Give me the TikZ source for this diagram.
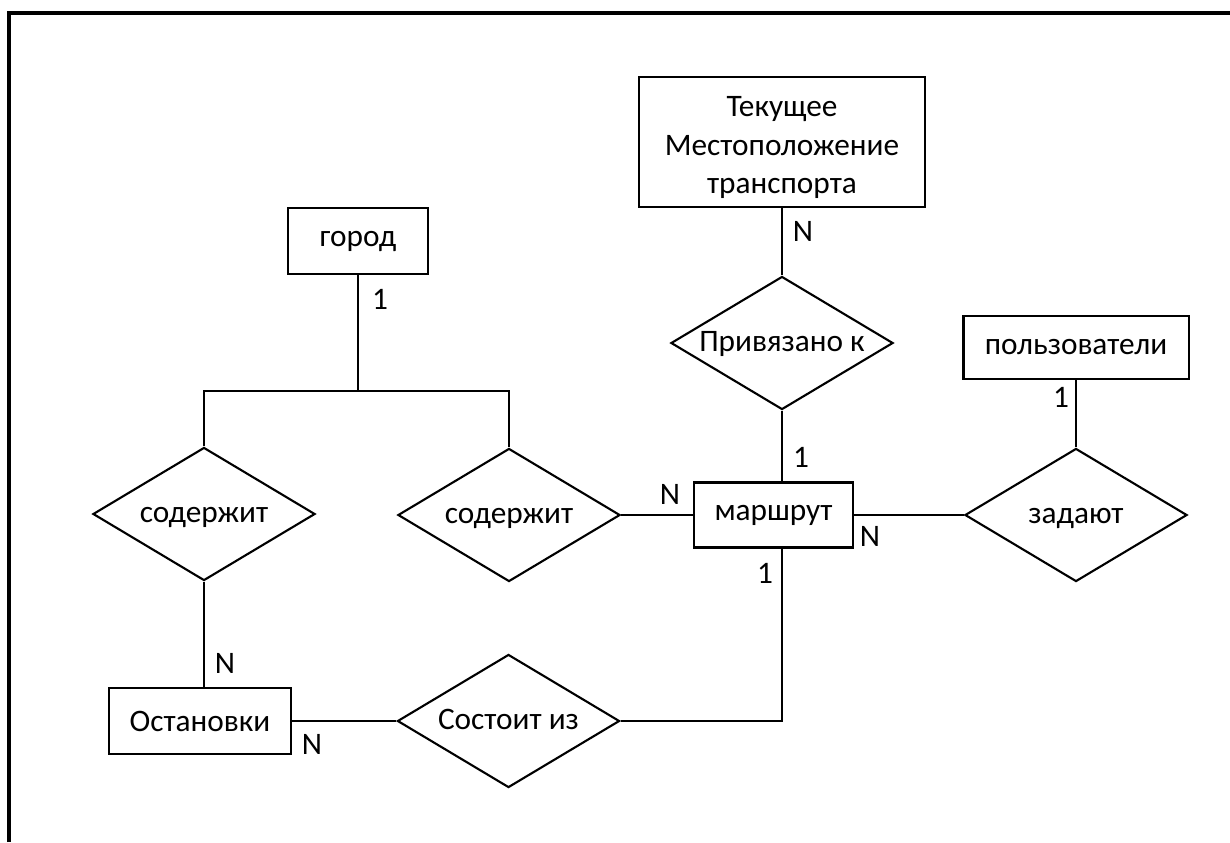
\documentclass[tikz,border=0pt]{standalone}
\usepackage{fontspec}
\setmainfont{Carlito}
\usetikzlibrary{shapes.geometric}
\newcommand\erfont{\fontsize{8.9}{11}\selectfont}
\begin{document}
\begin{tikzpicture}[x=0.01cm,y=-0.01cm,
  entity/.style={draw, rectangle, line width=0.6pt, inner sep=0pt, align=center, font=\erfont},
  rel/.style={draw, diamond, line width=0.6pt, inner sep=0pt, aspect=1.67,
              minimum width=2.22cm, minimum height=1.33cm, font=\erfont,
              text height=1ex, text depth=0pt},
  card/.style={inner sep=0pt, font=\erfont},
  link/.style={line width=0.6pt},
  frame/.style={line width=0.9pt}]
\useasboundingbox (0,0) rectangle (1230,842);
% frame
\coordinate (fbl) at (9,842);
\coordinate (ftl) at (9,13);
\coordinate (ftr) at (1230,13);
\draw[frame] (fbl) -- (ftl) -- (ftr);

% entities
\node[entity, minimum width=2.86cm, minimum height=1.30cm] (tek) at (782,142)
  {\rule{0pt}{9pt}Текущее\\Местоположение\\транспорта};
\node[entity, minimum width=1.59cm, minimum height=0.65cm] (marsh) at (773.5,515) {маршрут};
\node[entity, minimum width=2.25cm, minimum height=0.63cm] (polz) at (1076,347.5) {пользователи};
\node[entity, minimum width=1.40cm, minimum height=0.66cm] (gorod) at (358,241) {город};
\node[entity, minimum width=1.82cm, minimum height=0.66cm] (ost) at (200,721) {Остановки};

% relationships
\node[rel] (priv) at (782,343) {Привязано к};
\node[rel] (zad) at (1076,515) {задают};
\node[rel] (sod1) at (204,514) {содержит};
\node[rel] (sod2) at (509,515) {содержит};
\node[rel] (sost) at (508.5,721) {Состоит из};

% fork
\coordinate (fork) at (358,391);

% connectors
\draw[link] (tek.south) -- (priv.north);
\draw[link] (priv.south) -- (priv.south |- marsh.north);
\draw[link] (sost.east) -| (priv.south |- marsh.south);
\draw[link] (marsh.east) -- (zad.west);
\draw[link] (polz.south) -- (zad.north);
\draw[link] (gorod.south) -- (fork);
\draw[link] (sod1.north) |- (fork) -| (sod2.north);
\draw[link] (sod1.south) -- (sod1.south |- ost.north);
\draw[link] (ost.east) -- (sost.west);
\draw[link] (sod2.east) -- (marsh.west);

% cardinalities
\node[card] (c1) at (803,231) {N};
\node[card] (c2) at (801,457) {1};
\node[card] (c3) at (670,494) {N};
\node[card] (c4) at (870,536) {N};
\node[card] (c5) at (765,573) {1};
\node[card] (c6) at (1061,397) {1};
\node[card] (c7) at (380,299) {1};
\node[card] (c8) at (225,663) {N};
\node[card] (c9) at (312,744) {N};
\end{tikzpicture}
\end{document}
